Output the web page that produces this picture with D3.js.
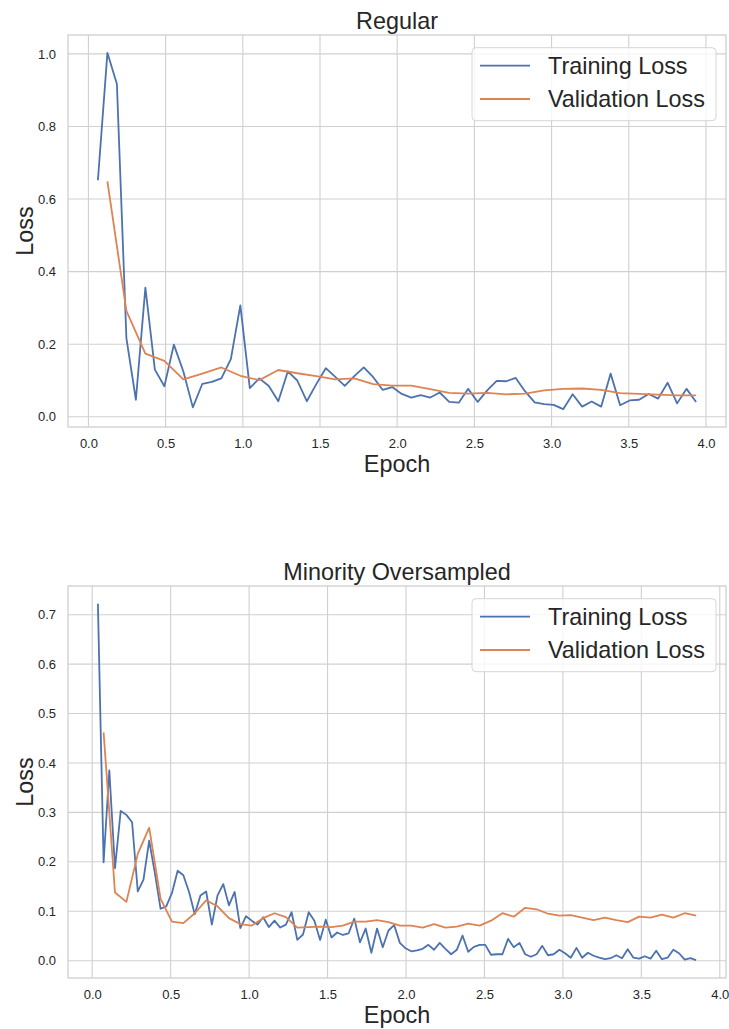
<!DOCTYPE html>
<html>
<head>
<meta charset="utf-8">
<script src="https://cdn.jsdelivr.net/npm/d3@7"></script>
<style>
  html, body { margin: 0; padding: 0; background: #ffffff; }
  svg { display: block; }
  text { font-family: "Liberation Sans", Arial, "DejaVu Sans", sans-serif; fill: #262626; }
</style>
</head>
<body>
<div id="chart"></div>
<script>
// Loss curves logged during fine-tuning: training loss every 50 steps,
// validation loss every 100 steps, plotted against fractional epoch.

// ---- Regular run ----
const regularStepsPerEpoch = 813;
const regularTrainLoss = [
  0.652, 1.003, 0.917, 0.217, 0.047, 0.356, 0.130, 0.084, 0.199, 0.125,
  0.026, 0.091, 0.096, 0.106, 0.159, 0.307, 0.079, 0.106, 0.085, 0.043,
  0.125, 0.100, 0.043, 0.090, 0.134, 0.110, 0.085, 0.112, 0.136, 0.109,
  0.074, 0.082, 0.063, 0.053, 0.060, 0.053, 0.067, 0.041, 0.039, 0.077,
  0.041, 0.073, 0.099, 0.098, 0.107, 0.070, 0.040, 0.035, 0.033, 0.021,
  0.062, 0.028, 0.042, 0.028, 0.119, 0.032, 0.045, 0.047, 0.063, 0.050,
  0.094, 0.037, 0.077, 0.041
];
const regularValLoss = [
  0.649, 0.292, 0.174, 0.154, 0.103, 0.119, 0.136, 0.113, 0.101, 0.129,
  0.120, 0.112, 0.103, 0.106, 0.090, 0.086, 0.086, 0.076, 0.066, 0.064,
  0.066, 0.062, 0.064, 0.073, 0.077, 0.078, 0.074, 0.065, 0.063, 0.061,
  0.059, 0.059
];
const regularYTicks = [0.0, 0.2, 0.4, 0.6, 0.8, 1.0];

// ---- Minority oversampled run ----
const oversampledStepsPerEpoch = 1377;
const oversampledTrainLoss = [
  0.722, 0.199, 0.385, 0.187, 0.303, 0.295, 0.280, 0.140, 0.164, 0.243,
  0.177, 0.105, 0.110, 0.137, 0.182, 0.173, 0.139, 0.094, 0.132, 0.140,
  0.073, 0.132, 0.155, 0.112, 0.139, 0.066, 0.090, 0.081, 0.073, 0.088,
  0.068, 0.081, 0.067, 0.073, 0.098, 0.042, 0.053, 0.098, 0.081, 0.042,
  0.083, 0.047, 0.057, 0.052, 0.055, 0.085, 0.037, 0.065, 0.016, 0.065,
  0.027, 0.061, 0.072, 0.036, 0.025, 0.019, 0.021, 0.024, 0.032, 0.022,
  0.036, 0.024, 0.013, 0.022, 0.051, 0.018, 0.028, 0.032, 0.032, 0.012,
  0.013, 0.013, 0.044, 0.027, 0.036, 0.013, 0.008, 0.013, 0.030, 0.011,
  0.013, 0.022, 0.015, 0.006, 0.026, 0.006, 0.016, 0.010, 0.006, 0.003,
  0.005, 0.011, 0.005, 0.023, 0.006, 0.004, 0.009, 0.004, 0.020, 0.003,
  0.006, 0.022, 0.015, 0.002, 0.005, 0.001
];
const oversampledValLoss = [
  0.462, 0.138, 0.119, 0.216, 0.269, 0.125, 0.079, 0.076, 0.096, 0.122,
  0.110, 0.086, 0.074, 0.071, 0.086, 0.096, 0.088, 0.067, 0.068, 0.069,
  0.068, 0.071, 0.079, 0.079, 0.082, 0.078, 0.071, 0.071, 0.067, 0.074,
  0.067, 0.069, 0.075, 0.071, 0.081, 0.096, 0.089, 0.107, 0.104, 0.095,
  0.091, 0.092, 0.087, 0.082, 0.087, 0.082, 0.078, 0.089, 0.087, 0.093,
  0.087, 0.096, 0.091
];
const oversampledYTicks = [0.0, 0.1, 0.2, 0.3, 0.4, 0.5, 0.6, 0.7];

const xTicks = [0.0, 0.5, 1.0, 1.5, 2.0, 2.5, 3.0, 3.5, 4.0];
const trainLogEvery = 50;
const valLogEvery = 100;
const seriesNames = ["Training Loss", "Validation Loss"];
const seriesColors = ["#4c72b0", "#dd8452"];

// ---- layout ----
const W = 729, H = 1029;
const plotLeft = 68, plotRight = 726, plotHeight = 392;
const panels = [
  { title: "Regular", top: 35, train: regularTrainLoss, val: regularValLoss,
    stepsPerEpoch: regularStepsPerEpoch, yTicks: regularYTicks },
  { title: "Minority Oversampled", top: 586, train: oversampledTrainLoss, val: oversampledValLoss,
    stepsPerEpoch: oversampledStepsPerEpoch, yTicks: oversampledYTicks }
];

const svg = d3.select("#chart").append("svg")
  .attr("width", W).attr("height", H)
  .attr("viewBox", `0 0 ${W} ${H}`);
svg.append("rect").attr("width", W).attr("height", H).attr("fill", "#ffffff");

// matplotlib-style 5% padding around the data range
function padded(extent) {
  const span = extent[1] - extent[0];
  return [extent[0] - 0.05 * span, extent[1] + 0.05 * span];
}

panels.forEach(p => {
  const trainPts = p.train.map((v, i) => ({ epoch: (i + 1) * trainLogEvery / p.stepsPerEpoch, loss: v }));
  const valPts = p.val.map((v, i) => ({ epoch: (i + 1) * valLogEvery / p.stepsPerEpoch, loss: v }));
  const all = trainPts.concat(valPts);

  const x = d3.scaleLinear()
    .domain(padded(d3.extent(all, d => d.epoch)))
    .range([plotLeft, plotRight]);
  const y = d3.scaleLinear()
    .domain(padded(d3.extent(all, d => d.loss)))
    .range([p.top + plotHeight, p.top]);

  const g = svg.append("g");

  // grid
  g.append("g").selectAll("line.vx").data(xTicks).join("line")
    .attr("x1", d => x(d)).attr("x2", d => x(d))
    .attr("y1", p.top).attr("y2", p.top + plotHeight)
    .attr("stroke", "#d0d0d0").attr("stroke-width", 1.1);
  g.append("g").selectAll("line.hy").data(p.yTicks).join("line")
    .attr("x1", plotLeft).attr("x2", plotRight)
    .attr("y1", d => y(d)).attr("y2", d => y(d))
    .attr("stroke", "#d0d0d0").attr("stroke-width", 1.1);

  // axes (tick labels only)
  const xAxis = g.append("g")
    .attr("transform", `translate(0,${p.top + plotHeight})`)
    .call(d3.axisBottom(x).tickValues(xTicks).tickSize(0).tickPadding(12).tickFormat(d3.format(".1f")));
  const yAxis = g.append("g")
    .attr("transform", `translate(${plotLeft},0)`)
    .call(d3.axisLeft(y).tickValues(p.yTicks).tickSize(0).tickPadding(12).tickFormat(d3.format(".1f")));
  [xAxis, yAxis].forEach(a => {
    a.select(".domain").remove();
    a.selectAll("text")
      .style("font-family", '"Liberation Sans", Arial, sans-serif')
      .style("font-size", "13px")
      .attr("fill", "#262626");
  });

  // frame
  g.append("rect")
    .attr("x", plotLeft).attr("y", p.top)
    .attr("width", plotRight - plotLeft).attr("height", plotHeight)
    .attr("fill", "none").attr("stroke", "#cccccc").attr("stroke-width", 1.25);

  // curves
  const line = d3.line().x(d => x(d.epoch)).y(d => y(d.loss));
  [trainPts, valPts].forEach((pts, k) => {
    g.append("path").datum(pts)
      .attr("d", line)
      .attr("fill", "none")
      .attr("stroke", seriesColors[k])
      .attr("stroke-width", 1.8)
      .attr("stroke-linejoin", "round")
      .attr("stroke-linecap", "butt");
  });

  // title and axis labels
  const cx = (plotLeft + plotRight) / 2;
  g.append("text").attr("x", cx).attr("y", p.top - 6)
    .attr("text-anchor", "middle").style("font-size", "23.4px").text(p.title);
  g.append("text").attr("x", cx).attr("y", p.top + plotHeight + 45)
    .attr("text-anchor", "middle").style("font-size", "23.4px").text("Epoch");
  g.append("text")
    .attr("transform", `translate(33,${p.top + plotHeight / 2}) rotate(-90)`)
    .attr("text-anchor", "middle").style("font-size", "23.4px").text("Loss");

  // legend
  const lg = g.append("g").attr("transform", `translate(472,${p.top + 12.7})`);
  lg.append("rect")
    .attr("width", 244).attr("height", 73).attr("rx", 4).attr("ry", 4)
    .attr("fill", "#ffffff").attr("fill-opacity", 0.8)
    .attr("stroke", "#d6d6d6").attr("stroke-width", 1);
  seriesNames.forEach((name, k) => {
    const cy = 18 + k * 33.3;
    lg.append("line")
      .attr("x1", 8).attr("x2", 58).attr("y1", cy).attr("y2", cy)
      .attr("stroke", seriesColors[k]).attr("stroke-width", 1.8);
    lg.append("text").attr("x", 76).attr("y", cy + 8)
      .style("font-size", "23.4px").text(name);
  });
});
</script>
</body>
</html>
